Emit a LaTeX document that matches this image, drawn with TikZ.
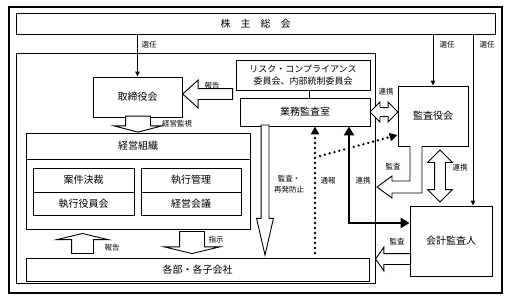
\documentclass[tikz,border=0pt]{standalone}
\usepackage{fontspec}
\setmainfont{Noto Sans CJK JP}
\usetikzlibrary{positioning, arrows.meta, calc, shapes.arrows}

\tikzset{
  box/.style={draw, line width=0.9pt, inner sep=0pt, align=center, font=\fontsize{10}{12}\selectfont},
  lbl/.style={inner sep=0pt, align=center, font=\fontsize{7.5}{11}\selectfont},
  barrow/.style={single arrow, draw, fill=white, line width=0.9pt, inner xsep=0pt, single arrow head indent=0pt},
  darrow/.style={double arrow, draw, fill=white, line width=0.9pt, inner xsep=0pt, double arrow head indent=0pt},
  sennin/.style={line width=0.9pt, -{Triangle[length=5pt,width=4.5pt]}},
  dotline/.style={line width=2.6pt, line cap=round, dash pattern=on 0pt off 5pt, -{Triangle[length=8pt,width=8pt]}},
  thickline/.style={line width=2.6pt, {Triangle[length=9pt,width=10pt]}-{Triangle[length=9pt,width=10pt]}},
}

\begin{document}
\begin{tikzpicture}[x=1pt, y=-1pt]
  \useasboundingbox (0,0) rectangle (511,303);
  \node[draw, line width=1.5pt, minimum width=493pt, minimum height=286pt] (waku) at (255.5,150) {};
  \node[draw, line width=0.9pt, minimum width=359pt, minimum height=230pt] (kaisha) at (195.5,168) {};

  \node[box, minimum width=479pt, minimum height=21pt] (kabunushi) at (255.5,23.5) {株\quad 主\quad 総\quad 会};
  \node[box, minimum width=89pt, minimum height=40pt] (torishimari) at (137.5,97) {取締役会};
  \node[box, minimum width=134pt, minimum height=30pt, font=\fontsize{9}{12}\selectfont] (risk) at (303,75)
    {リスク・コンプライアンス\\委員会、内部統制委員会};
  \node[box, minimum width=130pt, minimum height=28pt] (gyomu) at (305,112) {業務監査室};
  \node[box, minimum width=70pt, minimum height=60pt] (kansayaku) at (433,116) {監査役会};
  \node[box, minimum width=82pt, minimum height=70pt] (kaikei) at (451,241) {会計監査人};
  \node[box, minimum width=224pt, minimum height=96pt] (keiei) at (138,181) {};
  \node[box, minimum width=224pt, minimum height=26pt] (keieimei) at (138,146) {経営組織};
  \node[box, minimum width=101pt, minimum height=24pt] (anken) at (83.5,180) {案件決裁};
  \node[box, minimum width=101pt, minimum height=23pt] (shikko) at (83.5,203.5) {執行役員会};
  \node[box, minimum width=100pt, minimum height=24pt] (kanri) at (191,180) {執行管理};
  \node[box, minimum width=100pt, minimum height=23pt] (kaigi) at (191,203.5) {経営会議};
  \node[box, minimum width=343pt, minimum height=23pt] (kakubu) at (197.5,269.5) {各部・各子会社};

  \draw[line width=0.9pt] ([xshift=4pt]gyomu.north) -- ([xshift=4pt]gyomu.north |- risk.south);

  \draw[sennin] (torishimari.north |- kabunushi.south) -- (torishimari.north);
  \draw[sennin] (kansayaku.north |- kabunushi.south) -- (kansayaku.north);
  \draw[sennin] ([xshift=22pt]kaikei.north |- kabunushi.south) -- ([xshift=22pt]kaikei.north);
  \node[lbl] (senninA) at (149,45) {選任};
  \node[lbl] (senninB) at (447,45) {選任};
  \node[lbl] (senninC) at (487,45) {選任};

  \node[barrow, rotate=180, anchor=tip, minimum height=50pt, minimum width=27pt, inner ysep=5pt,
        single arrow head extend=8.5pt, single arrow tip angle=84] (hokokuA) at (182,94) {};
  \node[lbl] (hokokuAl) at (212,86) {報告};
  \node[barrow, rotate=-90, anchor=tip, minimum height=16pt, minimum width=47pt, inner ysep=12pt,
        single arrow head extend=11.5pt, single arrow tip angle=151] (kansi) at (keieimei.north) {};
  \node[lbl] (kansil) at (177,124) {経営監視};
  \node[barrow, rotate=90, anchor=tip, minimum height=20pt, minimum width=51pt, inner ysep=10.5pt,
        single arrow head extend=15pt, single arrow tip angle=153] (hokokuB) at (82.5,233) {};
  \node[lbl] (hokokuBl) at (112,248) {報告};
  \node[barrow, rotate=-90, anchor=tip, minimum height=22pt, minimum width=55pt, inner ysep=12pt,
        single arrow head extend=15.5pt, single arrow tip angle=153] (shiji) at (192,254) {};
  \node[lbl] (shijil) at (216,240) {指示};
  \node[barrow, rotate=-90, anchor=tip, minimum height=130pt, minimum width=16pt, inner ysep=3.5pt,
        single arrow head extend=4.5pt, single arrow tip angle=26] (saihatsu) at (265,257) {};
  \node[lbl] (saihatsul) at (289,184) {監査・\\再発防止};
  \node[barrow, rotate=180, anchor=tip, minimum height=35pt, minimum width=23pt, inner ysep=5pt,
        single arrow head extend=6.5pt, single arrow tip angle=110] (kansaB) at (375,259) {};
  \node[lbl] (kansaBl) at (397,242) {監査};

  \node[darrow, minimum height=28pt, minimum width=19pt, inner ysep=4pt, double arrow head extend=5.5pt,
        double arrow tip angle=90] (renkeiA) at ($(gyomu.east)!.5!(kansayaku.west |- gyomu.east)$) {};
  \node[lbl] (renkeiAl) at (386,92) {連携};
  \node[darrow, rotate=90, minimum height=52pt, minimum width=24pt, inner ysep=5pt, double arrow head extend=7pt,
        double arrow tip angle=90] (renkeiB) at (440,176) {};
  \node[lbl] (renkeiBl) at (460,168) {連携};

  \draw[line width=0.9pt, fill=white] (410,146) -- (410,181) -- (392,181) -- (392,176) -- (377,187)
    -- (392,198) -- (392,193) -- (422,193) -- (422,146);
  \node[lbl] (kansaAl) at (393,167) {監査};

  \draw[thickline] ([xshift=44pt]gyomu.south) |- ([yshift=18pt]kaikei.west);
  \node[lbl] (renkeiCl) at (363,181) {連携};

  \coordinate (tsuho) at (315,253);
  \coordinate (bunki) at (320,156);
  \draw[dotline] (tsuho) -- (tsuho |- gyomu.south);
  \draw[dotline] (bunki) -- ([yshift=-19pt]kansayaku.west);
  \node[lbl] (tsuhol) at (328,181) {通報};
\end{tikzpicture}
\end{document}
